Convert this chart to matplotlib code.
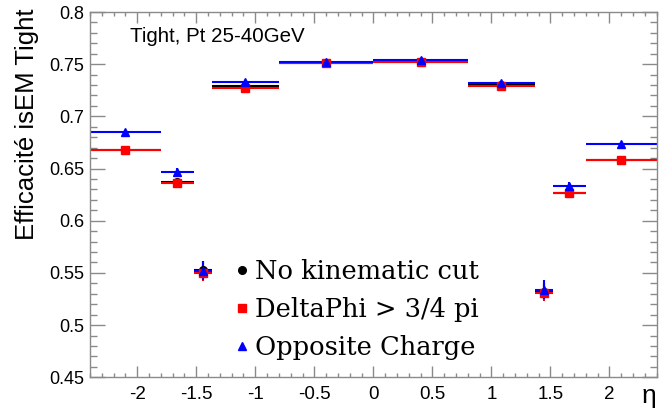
import matplotlib
matplotlib.use("Agg")
import matplotlib.pyplot as plt
from matplotlib.ticker import MultipleLocator
import numpy as np

# ---- data ----
eta_edges = [-2.4, -1.8, -1.52, -1.37, -0.8, 0.0, 0.8, 1.37, 1.52, 1.8, 2.4]
eff_nocut = [0.668, 0.637, 0.553, 0.729, 0.7515, 0.752, 0.730, 0.532, 0.627, 0.658]
err_nocut = [0.0015, 0.004, 0.008, 0.0015, 0.001, 0.001, 0.0015, 0.008, 0.004, 0.0015]
eff_dphi = [0.6675, 0.6365, 0.550, 0.7275, 0.7508, 0.752, 0.7295, 0.531, 0.6268, 0.6578]
err_dphi = [0.0015, 0.004, 0.008, 0.0015, 0.001, 0.001, 0.0015, 0.008, 0.004, 0.0015]
eff_os = [0.6847, 0.6469, 0.552, 0.7326, 0.7524, 0.7543, 0.7319, 0.5341, 0.6335, 0.6734]
err_os = [0.0015, 0.004, 0.009, 0.0015, 0.001, 0.001, 0.0015, 0.009, 0.004, 0.0015]

labels = ["No kinematic cut", "DeltaPhi > 3/4 pi", "Opposite Charge"]
title_text = "Tight, Pt 25-40GeV"
ylabel_text = "Efficacité isEM Tight"
xlabel_text = "η"

edges = np.array(eta_edges)
centers = 0.5 * (edges[1:] + edges[:-1])
half = 0.5 * (edges[1:] - edges[:-1])

fig = plt.figure(figsize=(6.63, 4.11), dpi=100)
ax = fig.add_axes([90/663, 1-377.3/411, (656.7-90)/663, (377.3-12)/411])

series = [
    (eff_nocut, err_nocut, "black", "o", 5.5),
    (eff_dphi, err_dphi, "#ff0000", "s", 5.5),
    (eff_os, err_os, "#0000ff", "^", 6),
]
for (vals, errs, col, mk, ms), lab in zip(series, labels):
    ax.errorbar(centers, vals, xerr=half, yerr=errs, fmt=mk, color=col,
                ms=ms, mec=col, mfc=col, elinewidth=1.5, capsize=0,
                label=lab)

ax.set_xlim(-2.4, 2.4)
ax.set_ylim(0.45, 0.8)

framecol = "#8a8a8a"
for s in ax.spines.values():
    s.set_color(framecol)
    s.set_linewidth(1.0)

ax.xaxis.set_major_locator(MultipleLocator(0.5))
ax.xaxis.set_minor_locator(MultipleLocator(0.1))
ax.yaxis.set_major_locator(MultipleLocator(0.05))
ax.yaxis.set_minor_locator(MultipleLocator(0.01))
ax.tick_params(axis="x", which="major", direction="in", length=7.7, width=1.0,
               color=framecol, top=True, labelsize=13.5, pad=6)
ax.tick_params(axis="x", which="minor", direction="in", length=3.2, width=1.0,
               color=framecol, top=True)
ax.tick_params(axis="y", which="major", direction="in", length=10.8, width=1.0,
               color=framecol, right=True, labelsize=13, pad=4)
ax.tick_params(axis="y", which="minor", direction="in", length=4.8, width=1.0,
               color=framecol, right=True)
for lab in ax.get_xticklabels() + ax.get_yticklabels():
    lab.set_fontfamily("Liberation Sans")

def fmt_y(v, pos):
    s = "%.2f" % v
    if s.endswith("0"):
        s = s[:-1]
    return s
def fmt_x(v, pos):
    if abs(v) < 1e-9:
        return "0"
    return ("%g" % v)
ax.yaxis.set_major_formatter(plt.FuncFormatter(fmt_y))
ax.xaxis.set_major_formatter(plt.FuncFormatter(fmt_x))

fig.text(27/663, 1-9/411, ylabel_text, rotation=90, ha="center", va="top",
         fontsize=18.5, family="Liberation Sans")
fig.text(649/663, 1-396/411, xlabel_text, ha="center", va="center",
         fontsize=19, family="Liberation Sans")
ax.text((130-90)/566.7, (377.3-36)/365.3, title_text, transform=ax.transAxes,
        ha="left", va="center", fontsize=14.8, family="Liberation Sans")

leg_handles = [plt.Line2D([], [], ls="none", marker=m, color=c, ms=s)
               for (_, _, c, m, s) in series]
leg = ax.legend(leg_handles, labels, loc="upper left",
                bbox_to_anchor=(236/663, 1-259/411), bbox_transform=fig.transFigure,
                frameon=False, handlelength=0.5, handletextpad=0.25,
                labelspacing=0.5, borderaxespad=0, borderpad=0,
                prop={"family": "DejaVu Serif", "size": 18.5})

fig.savefig("out.png", dpi=100)
